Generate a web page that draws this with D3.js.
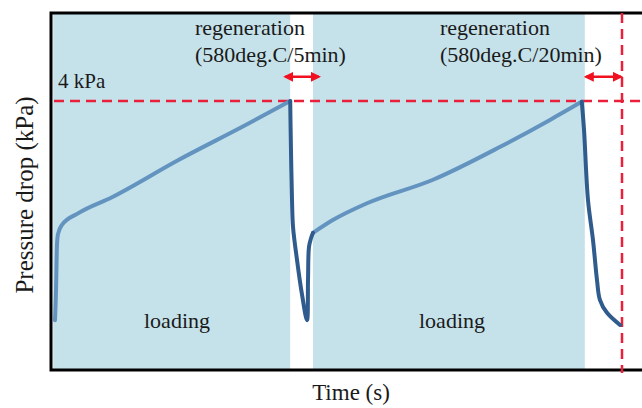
<!DOCTYPE html>
<html>
<head>
<meta charset="utf-8">
<script src="https://cdn.jsdelivr.net/npm/d3@7"></script>
</head>
<body style="margin:0; background:#fff">
<div id="chart"></div>
<script>
// time in arbitrary units, pressure drop in kPa
const loadingPeriods = [[0.2, 39.7], [43.5, 88.8]];
const regenPeriods = [[39.7, 43.5], [88.8, 95]];
const limitKPa = 4;
const regenEndT = 95;

// loading segments (lighter line)
const loading1 = [
  [0.5, 0.74], [0.67, 1.19], [0.83, 1.86], [1.0, 2.02], [1.67, 2.16],
  [4.33, 2.33], [10, 2.57], [21, 3.12], [32.2, 3.64], [39.7, 4.0]
];
const loading2 = [
  [43.5, 2.04], [46.8, 2.23], [52.5, 2.48], [63.5, 2.83], [74.7, 3.32],
  [83, 3.72], [88.3, 3.99]
];
// regeneration segments (darker line)
const regen1 = [
  [39.7, 4.0], [39.83, 3.27], [40.0, 2.53], [40.17, 2.13], [40.83, 1.64],
  [41.67, 1.12], [42.5, 0.74], [42.67, 1.34], [42.83, 1.83], [43.17, 1.96], [43.5, 2.04]
];
const regen2 = [
  [88.3, 3.99], [88.67, 3.57], [89.33, 2.53], [90.17, 1.93], [90.83, 1.34],
  [91.33, 1.04], [92.5, 0.85], [94.67, 0.67]
];
const regenLabels = ["(580deg.C/5min)", "(580deg.C/20min)"];

const width = 642, height = 408;
const margin = { top: 13, left: 52, bottom: 38 };
const serif = '"Liberation Serif"';

const svg = d3.select("#chart").append("svg")
  .attr("width", width).attr("height", height);

const x = d3.scaleLinear().domain([0, 100]).range([margin.left, margin.left + 600]);
const y = d3.scaleLinear().domain([0, 5.31]).range([height - margin.bottom, margin.top]);

const plotTop = y(5.31), plotBottom = y(0);

// shaded loading periods
svg.append("g").selectAll("rect")
  .data(loadingPeriods)
  .enter().append("rect")
  .attr("x", d => x(d[0]))
  .attr("width", d => x(d[1]) - x(d[0]))
  .attr("y", plotTop)
  .attr("height", plotBottom - plotTop)
  .attr("fill", "#c5e2eb");

// frame (left, top, bottom)
svg.append("path")
  .attr("d", `M${width + 5},${plotTop}H${x(0) - 1}V${plotBottom}H${width + 5}`)
  .attr("fill", "none")
  .attr("stroke", "#000")
  .attr("stroke-width", 3);

// 4 kPa limit line
svg.append("line")
  .attr("x1", x(0) + 2).attr("x2", width)
  .attr("y1", y(limitKPa)).attr("y2", y(limitKPa))
  .attr("stroke", "#e8203a").attr("stroke-width", 2.5)
  .attr("stroke-dasharray", "10,6");

// end of regeneration marker
svg.append("line")
  .attr("x1", x(regenEndT)).attr("x2", x(regenEndT))
  .attr("y1", plotTop).attr("y2", plotBottom + 3)
  .attr("stroke", "#e8203a").attr("stroke-width", 2.5)
  .attr("stroke-dasharray", "10,6");

const line = d3.line()
  .x(d => x(d[0]))
  .y(d => y(d[1]))
  .curve(d3.curveMonotoneX);
const lineRegen = d3.line()
  .x(d => x(d[0]))
  .y(d => y(d[1]))
  .curve(d3.curveCatmullRom.alpha(0.5));

svg.append("g").selectAll("path")
  .data([loading1, loading2])
  .enter().append("path")
  .attr("d", line)
  .attr("fill", "none")
  .attr("stroke", "#6393bf")
  .attr("stroke-width", 4)
  .attr("stroke-linejoin", "round")
  .attr("stroke-linecap", "round");

svg.append("g").selectAll("path")
  .data([regen1, regen2])
  .enter().append("path")
  .attr("d", lineRegen)
  .attr("fill", "none")
  .attr("stroke", "#2f5b8d")
  .attr("stroke-width", 4)
  .attr("stroke-linejoin", "round")
  .attr("stroke-linecap", "round");

// double arrows over regeneration periods
svg.append("defs").append("marker")
  .attr("id", "head")
  .attr("viewBox", "0 0 10 10")
  .attr("refX", 8).attr("refY", 5)
  .attr("markerWidth", 4).attr("markerHeight", 4)
  .attr("orient", "auto-start-reverse")
  .append("path")
  .attr("d", "M0,0L10,5L0,10z")
  .attr("fill", "#f01020");

const arrowY = y(4.36);
svg.append("g").selectAll("line")
  .data(regenPeriods)
  .enter().append("line")
  .attr("x1", (d, i) => x(d[0]) - (i === 0 ? 5 : -1))
  .attr("x2", (d, i) => x(d[1]) + (i === 0 ? 6 : -1))
  .attr("y1", arrowY).attr("y2", arrowY)
  .attr("stroke", "#f01020").attr("stroke-width", 2.5)
  .attr("marker-start", "url(#head)")
  .attr("marker-end", "url(#head)");

// labels
const regenText = svg.append("g").selectAll("g")
  .data(regenLabels)
  .enter().append("g")
  .attr("transform", (d, i) => `translate(${i === 0 ? 195 : 440}, 0)`);
regenText.append("text")
  .attr("y", 35)
  .text("regeneration");
regenText.append("text")
  .attr("y", 62)
  .text(d => d);

svg.append("text")
  .attr("class", "kpa")
  .attr("x", x(0) + 6).attr("y", 88)
  .text(limitKPa + " kPa");

svg.append("g").selectAll("text")
  .data(loadingPeriods)
  .enter().append("text")
  .attr("x", (d, i) => i === 0 ? 177 : 452)
  .attr("y", 328)
  .style("text-anchor", "middle")
  .text("loading");

svg.append("text")
  .attr("class", "ylabel")
  .attr("transform", "translate(33, 195) rotate(-90)")
  .style("text-anchor", "middle")
  .text("Pressure drop (kPa)");

svg.append("text")
  .attr("class", "xlabel")
  .attr("x", 351).attr("y", 400)
  .style("text-anchor", "middle")
  .text("Time (s)");

// fonts set on each text element directly
svg.selectAll("text")
  .style("font-family", serif)
  .style("font-size", "22px")
  .style("fill", "#1a1a1a");
svg.select(".kpa").style("font-size", "21px");
svg.select(".ylabel").style("font-size", "25px");
svg.select(".xlabel").style("font-size", "23px");
</script>
</body>
</html>
